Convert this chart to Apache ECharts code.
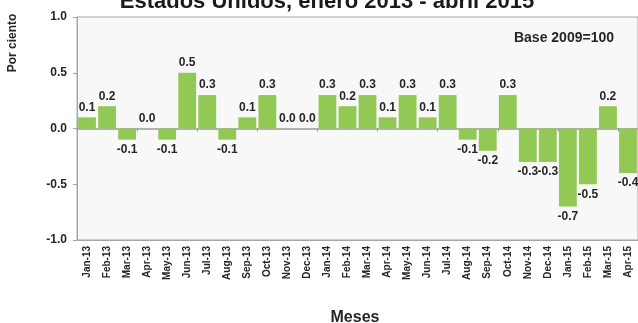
<!DOCTYPE html>
<html>
<head>
<meta charset="utf-8">
<style>
  html, body { margin: 0; padding: 0; background: #ffffff; }
  #chart { width: 638px; height: 323px; }
</style>
<script src="https://cdn.jsdelivr.net/npm/echarts@6/dist/echarts.min.js"></script>
</head>
<body>
<div id="chart"></div>
<script>
// Monthly percent change, United States, Jan 2013 - Apr 2015
const months = [
  'Jan-13','Feb-13','Mar-13','Apr-13','May-13','Jun-13','Jul-13','Aug-13','Sep-13','Oct-13','Nov-13','Dec-13',
  'Jan-14','Feb-14','Mar-14','Apr-14','May-14','Jun-14','Jul-14','Aug-14','Sep-14','Oct-14','Nov-14','Dec-14',
  'Jan-15','Feb-15','Mar-15','Apr-15'
];
const changes = [
  0.1, 0.2, -0.1, 0.0, -0.1, 0.5, 0.3, -0.1, 0.1, 0.3, 0.0, 0.0,
  0.3, 0.2, 0.3, 0.1, 0.3, 0.1, 0.3, -0.1, -0.2, 0.3, -0.3, -0.3,
  -0.7, -0.5, 0.2, -0.4
];
const yTicks = [-1.0, -0.5, 0.0, 0.5, 1.0];

const FONT = '"Liberation Sans", Arial, sans-serif';
const INK = '#262626';

const chart = echarts.init(document.getElementById('chart'), null, { renderer: 'canvas' });

const barData = changes.map(v => ({
  value: v,
  label: { position: v < 0 ? 'bottom' : 'top' }
}));

chart.setOption({
  animation: false,
  textStyle: { fontFamily: FONT },
  grid: {
    left: 77, top: 17, right: -5, bottom: 83,
    show: true,
    backgroundColor: '#f7f8f7',
    borderColor: '#a6a6a6',
    borderWidth: 1
  },
  xAxis: [
    {
      type: 'category',
      data: months,
      position: 'bottom',
      axisLine: { onZero: false, lineStyle: { color: '#a6a6a6', width: 1 } },
      axisTick: { show: false },
      axisLabel: {
        rotate: 90, interval: 0, margin: 6,
        fontSize: 10, fontWeight: 'bold', color: INK, fontFamily: FONT
      }
    },
    {
      // zero baseline with small separators between months
      type: 'category',
      data: months,
      position: 'top',
      axisLine: { onZero: true, lineStyle: { color: '#999999', width: 1.5 } },
      axisTick: { show: true, inside: true, length: 3, lineStyle: { color: '#999999' } },
      axisLabel: { show: false }
    }
  ],
  yAxis: {
    type: 'value',
    min: -1, max: 1, interval: 0.5,
    axisLine: { show: true, lineStyle: { color: '#a6a6a6' } },
    axisTick: { show: true, length: 4, lineStyle: { color: '#a6a6a6' } },
    splitLine: { show: false },
    axisLabel: {
      margin: 10,
      fontSize: 12, fontWeight: 'bold', color: INK, fontFamily: FONT,
      formatter: v => (yTicks.includes(v) ? v.toFixed(1) : '')
    }
  },
  series: [{
    type: 'bar',
    xAxisIndex: 0,
    data: barData,
    barCategoryGap: '11%',
    itemStyle: { color: '#92c955' },
    label: {
      show: true,
      distance: 4,
      fontSize: 12, fontWeight: 'bold', color: INK, fontFamily: FONT,
      formatter: p => p.value.toFixed(1)
    }
  }],
  graphic: [
    {
      type: 'text', x: 327, y: 2,
      style: {
        text: 'Estados Unidos, enero 2013 - abril 2015',
        font: 'bold 22px ' + FONT, fill: '#1a1a1a',
        textAlign: 'center', textVerticalAlign: 'middle'
      }
    },
    {
      type: 'text', x: 614, y: 38,
      style: {
        text: 'Base 2009=100',
        font: 'bold 14px ' + FONT, fill: INK,
        textAlign: 'right', textVerticalAlign: 'middle'
      }
    },
    {
      type: 'text', x: 13, y: 43, rotation: Math.PI / 2,
      style: {
        text: 'Por ciento',
        font: 'bold 12px ' + FONT, fill: INK,
        textAlign: 'center', textVerticalAlign: 'middle'
      }
    },
    {
      type: 'text', x: 355, y: 318,
      style: {
        text: 'Meses',
        font: 'bold 16px ' + FONT, fill: INK,
        textAlign: 'center', textVerticalAlign: 'middle'
      }
    }
  ]
});
</script>
</body>
</html>
